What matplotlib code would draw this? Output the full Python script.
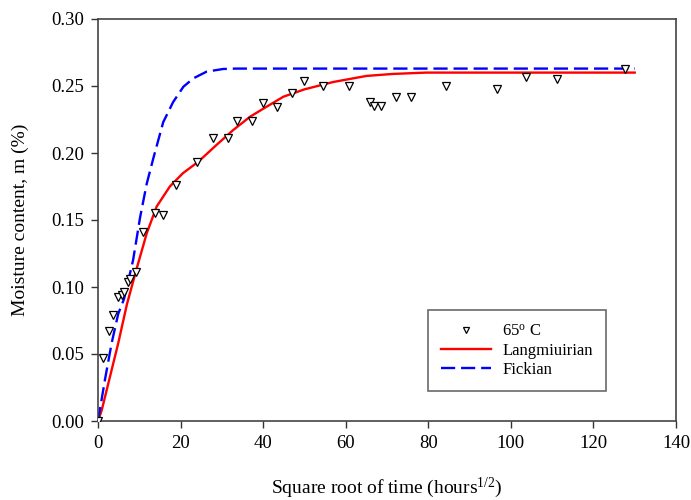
import numpy as np
import matplotlib
matplotlib.use('Agg')
import matplotlib.pyplot as plt

plt.rcParams['font.family'] = ['Liberation Serif', 'DejaVu Serif']
plt.rcParams['mathtext.fontset'] = 'custom'
plt.rcParams['mathtext.rm'] = 'Liberation Serif'
plt.rcParams['mathtext.it'] = 'Liberation Serif:italic'

# measured moisture content at 65 C
obs_x = [0, 1.1, 2.7, 3.6, 4.9, 5.7, 6.4, 7.2, 7.8, 9.1, 10.8, 13.9, 15.7,
         18.9, 24.0, 27.8, 31.4, 33.6, 37.4, 40.0, 43.4, 46.9, 49.9, 54.5,
         60.8, 65.9, 66.8, 68.5, 72.2, 75.8, 84.2, 96.7, 103.6, 111.1, 127.6]
obs_y = [0, 0.047, 0.067, 0.079, 0.0925, 0.094, 0.096, 0.104, 0.106, 0.111,
         0.141, 0.155, 0.154, 0.176, 0.193, 0.211, 0.211, 0.224, 0.224, 0.237,
         0.234, 0.245, 0.254, 0.250, 0.250, 0.238, 0.235, 0.235, 0.242,
         0.2415, 0.250, 0.248, 0.2565, 0.255, 0.2627]

# Langmuir model curve
lang_x = [0, 0.9, 2.9, 4.9, 7.0, 9.3, 11.8, 14.2, 17.4, 20.6, 24.3, 28.7,
          32.7, 36.8, 40.0, 44.9, 50.0, 57.0, 65.0, 71.4, 79.5, 90, 100, 110,
          120, 130]
lang_y = [0, 0.008, 0.033, 0.058, 0.087, 0.113, 0.140, 0.160, 0.175, 0.185,
          0.1935, 0.206, 0.217, 0.227, 0.233, 0.242, 0.2475, 0.253, 0.2575,
          0.259, 0.260, 0.260, 0.260, 0.260, 0.260, 0.260]

# Fickian model curve
fick_x = [0, 1.7, 3.3, 4.9, 6.3, 8.5, 10.2, 11.8, 13.4, 15.8, 18.2, 20.7,
          23.1, 26.3, 30.3, 33.5, 130]
fick_y = [0, 0.031, 0.058, 0.080, 0.091, 0.120, 0.152, 0.177, 0.196, 0.223,
          0.238, 0.2495, 0.2557, 0.2607, 0.2627, 0.263, 0.263]

fig = plt.figure(figsize=(6.91, 5.0), dpi=100)
ax = fig.add_axes([0.1418, 0.158, 0.8365, 0.804])

ax.plot(lang_x, lang_y, color='red', lw=1.7, label='Langmiuirian', zorder=2)
ax.plot(fick_x, fick_y, color='blue', lw=1.7, dashes=(6, 2.5),
        label='Fickian', zorder=2)
ax.plot(obs_x, obs_y, ls='none', marker='v', ms=5.5, mfc='white',
        mec='black', mew=0.9, label='65$^{\\mathrm{o}}$ C', zorder=3)

ax.set_xlim(0, 140)
ax.set_ylim(0, 0.30)
ax.set_xticks(np.arange(0, 141, 20))
ax.set_yticks(np.arange(0, 0.301, 0.05))
ax.yaxis.set_major_formatter(matplotlib.ticker.FormatStrFormatter('%.2f'))
ax.tick_params(direction='out', length=5, width=1, labelsize=13.5,
               color='#333333', top=False, right=False, pad=5)
for s in ax.spines.values():
    s.set_color('#444444')
    s.set_linewidth(1.2)

ax.set_xlabel('Square root of time (hours$^{1/2}$)', fontsize=14, labelpad=17)
ax.set_ylabel('Moisture content, m (%)', fontsize=14, labelpad=16)

h, l = ax.get_legend_handles_labels()
leg = ax.legend([h[2], h[0], h[1]], [l[2], l[0], l[1]],
                loc='upper left', bbox_to_anchor=(0.571, 0.276),
                borderaxespad=0, fontsize=12, frameon=True, fancybox=False,
                edgecolor='#444444', handlelength=3.0, borderpad=0.8,
                labelspacing=0.2, handletextpad=0.65, markerscale=0.75)
leg.get_frame().set_linewidth(1.2)

fig.savefig('out.png', dpi=100)
